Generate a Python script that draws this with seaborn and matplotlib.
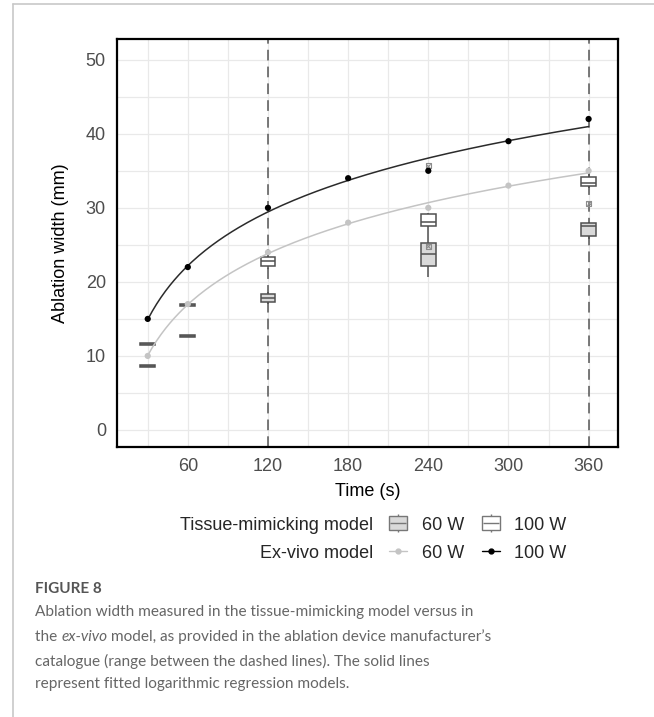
import numpy as np
import pandas as pd
import matplotlib
matplotlib.use("Agg")
import matplotlib.pyplot as plt
import seaborn as sns
from matplotlib.lines import Line2D
from matplotlib.patches import Patch
from matplotlib.legend_handler import HandlerTuple

# ---------------- data ----------------
exvivo_time = [30, 60, 120, 180, 240, 300, 360]
exvivo_60w = [10, 17, 24, 28, 30, 33, 35]
exvivo_100w = [15, 22, 30, 34, 35, 39, 42]

tm_time = [30, 60, 120, 240, 360]
# five values per group: lower whisker, Q1, median, Q3, upper whisker
tm_60w = [
    [8.45, 8.45, 8.6, 8.75, 8.75],
    [12.55, 12.55, 12.7, 12.85, 12.85],
    [17.0, 17.3, 17.8, 18.3, 18.6],
    [20.7, 22.2, 23.8, 25.3, 25.4],
    [25.8, 26.2, 27.5, 27.9, 28.1],
]
tm_100w = [
    [11.45, 11.45, 11.6, 11.75, 11.75],
    [16.75, 16.75, 16.9, 17.05, 17.05],
    [21.8, 22.1, 22.8, 23.4, 24.4],
    [25.4, 27.6, 28.1, 29.2, 29.3],
    [32.7, 32.9, 33.3, 34.1, 35.0],
]
outlier_time = [240, 240, 360]
outlier_width = [35.7, 24.8, 30.6]
catalogue_range = [120, 360]

x_ticks = [60, 120, 180, 240, 300, 360]
y_ticks = [0, 10, 20, 30, 40, 50]

# ---------------- figure ----------------
sns.set_theme(style="white")
plt.rcParams["font.family"] = ["Liberation Sans", "DejaVu Sans"]

W, H = 654, 717
fig = plt.figure(figsize=(W / 100, H / 100), dpi=100)
ax = fig.add_axes([117 / W, 1 - 447 / H, (618 - 117) / W, (447 - 39) / H])

rows = []
for t, s60, s100 in zip(tm_time, tm_60w, tm_100w):
    for v in s60:
        rows.append((t, "60 W", v))
    for v in s100:
        rows.append((t, "100 W", v))
df = pd.DataFrame(rows, columns=["time", "power", "width"])

# catalogue range dashed lines
for xv in catalogue_range:
    ax.axvline(xv, color="#555555", lw=1.1, ls=(0, (7, 4)), zorder=1.5)

sns.boxplot(data=df, x="time", y="width", hue="power", native_scale=True,
            dodge=False, width=0.37, whis=(0, 100), showfliers=False,
            showcaps=False,
            palette={"60 W": "#d9d9d9", "100 W": "white"},
            linecolor="#505050", linewidth=1.1, legend=False, ax=ax,
            zorder=3)

sns.scatterplot(x=outlier_time, y=outlier_width, marker="s", s=14,
                facecolor="none", edgecolor="#8c8c8c", linewidth=0.8,
                ax=ax, zorder=4)
sns.scatterplot(x=outlier_time, y=outlier_width, marker="x", s=10,
                color="#8c8c8c", linewidth=0.8, ax=ax, zorder=4)

# fitted log regressions
tt = np.linspace(min(exvivo_time), max(exvivo_time), 200)
for yv, col in [(exvivo_60w, "#c4c4c4"), (exvivo_100w, "#2b2b2b")]:
    b, a = np.polyfit(np.log(exvivo_time), yv, 1)
    sns.lineplot(x=tt, y=a + b * np.log(tt), color=col, lw=1.1, ax=ax,
                 zorder=5)

sns.scatterplot(x=exvivo_time, y=exvivo_60w, color="#c4c4c4", s=20,
                edgecolor="none", ax=ax, zorder=6)
sns.scatterplot(x=exvivo_time, y=exvivo_100w, color="black", s=20,
                edgecolor="none", ax=ax, zorder=6)

ax.set_xlim(7, 382)
ax.set_ylim(-2.3, 52.8)
ax.set_xticks(x_ticks)
ax.set_xticks([30, 90, 150, 210, 270, 330], minor=True)
ax.set_yticks(y_ticks)
ax.set_yticks([5, 15, 25, 35, 45], minor=True)
ax.grid(which="both", color="#e9e9e9", lw=0.9)
ax.set_axisbelow(True)
ax.tick_params(which="both", length=0, labelsize=13, labelcolor="#4d4d4d",
               pad=8)
for sp in ax.spines.values():
    sp.set_color("black")
    sp.set_linewidth(1.6)
ax.set_xlabel("Time (s)", fontsize=13, color="black", labelpad=6)
ax.set_ylabel("Ablation width (mm)", fontsize=13, color="black", labelpad=12)

# ---------------- legends ----------------
def box_handle(fc):
    return (Line2D([], [], color="#777777", marker="|", ms=13, mew=1.0,
                   ls="none"),
            Patch(facecolor=fc, edgecolor="#777777", lw=1.0),
            Line2D([], [], color="#777777", marker="_", ms=12, mew=1.0,
                   ls="none"))

h1 = [box_handle("#d9d9d9"), box_handle("white")]
fig.legend(h1, ["60 W", "100 W"], ncol=2, frameon=False,
           loc="center left", bbox_to_anchor=(380 / W, 1 - 525 / H),
           handler_map={tuple: HandlerTuple(ndivide=1, pad=0)},
           handlelength=1.0, handleheight=0.8, handletextpad=0.8,
           columnspacing=1.0, fontsize=13, borderpad=0)
h2 = [Line2D([], [], color="#c4c4c4", marker="o", ms=3.5, lw=1.0),
      Line2D([], [], color="black", marker="o", ms=3.5, lw=1.0)]
fig.legend(h2, ["60 W", "100 W"], ncol=2, frameon=False,
           loc="center left", bbox_to_anchor=(380 / W, 1 - 553 / H),
           handlelength=1.0, handletextpad=0.8, columnspacing=1.0,
           fontsize=13, borderpad=0)
fig.text(373 / W, 1 - 525 / H, "Tissue-mimicking model", ha="right",
         va="center", fontsize=13)
fig.text(373 / W, 1 - 553 / H, "Ex-vivo model", ha="right", va="center",
         fontsize=13)

# ---------------- caption & frame ----------------
fig.add_artist(Line2D([13 / W, 13 / W], [0, 1 - 4 / H], color="#c8c8c8",
                      lw=1.2, transform=fig.transFigure))
fig.add_artist(Line2D([13 / W, 1], [1 - 4 / H, 1 - 4 / H], color="#c8c8c8",
                      lw=1.2, transform=fig.transFigure))

cap_font = dict(family=["Lato", "DejaVu Sans"], color="#666666",
                fontsize=11.1)
fig.text(35 / W, 1 - 589 / H, "FIGURE 8", va="center", color="#555555",
         fontsize=11, family=["Lato", "DejaVu Sans"], weight="bold")
fig.text(35 / W, 1 - 612 / H,
         "Ablation width measured in the tissue-mimicking model versus in",
         va="center", **cap_font)
t1 = fig.text(35 / W, 1 - 637 / H, "the ", va="center", **cap_font)
t2 = fig.text(0, 0, "ex-vivo", va="center", style="italic", **cap_font)
t3 = fig.text(0, 0,
              " model, as provided in the ablation device manufacturer\u2019s",
              va="center", **cap_font)
fig.text(35 / W, 1 - 661 / H,
         "catalogue (range between the dashed lines). The solid lines",
         va="center", **cap_font)
fig.text(35 / W, 1 - 684 / H, "represent fitted logarithmic regression models.",
         va="center", **cap_font)

fig.canvas.draw()
r = fig.canvas.get_renderer()
bb1 = t1.get_window_extent(r)
t2.set_position((bb1.x1 / fig.bbox.width, 1 - 637 / H))
fig.canvas.draw()
bb2 = t2.get_window_extent(r)
t3.set_position((bb2.x1 / fig.bbox.width, 1 - 637 / H))

fig.savefig("out.png", dpi=100)
